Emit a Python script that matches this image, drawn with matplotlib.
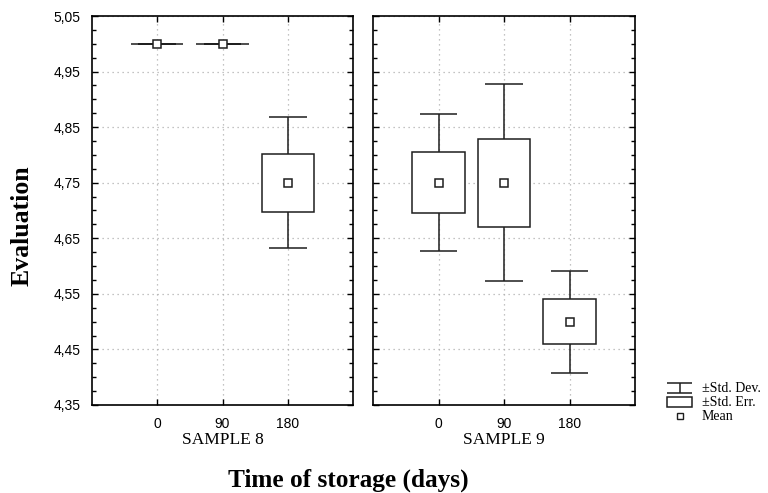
import numpy as np
import matplotlib
matplotlib.use("Agg")
from matplotlib import pyplot as plt
from matplotlib.patches import Rectangle
from matplotlib.ticker import FuncFormatter, MultipleLocator

# storage days and group statistics
days = ["0", "90", "180"]
samples = ["SAMPLE 8", "SAMPLE 9"]
mean_s8 = [5.00, 5.00, 4.75]
se_s8 = [0.0, 0.0, 0.052]
sd_s8 = [0.0, 0.0, 0.118]
mean_s9 = [4.75, 4.75, 4.50]
se_s9 = [0.055, 0.079, 0.041]
sd_s9 = [0.123, 0.177, 0.092]
y_ticks = [4.35, 4.45, 4.55, 4.65, 4.75, 4.85, 4.95, 5.05]

serif = "Liberation Serif"
sans = "Liberation Sans"
ink = "#1e1e1e"

fig = plt.figure(figsize=(7.68, 4.93), dpi=100)
W, H = 768.0, 493.0
ax1 = fig.add_axes([92 / W, 1 - 405 / H, 261 / W, 389 / H])
ax2 = fig.add_axes([373 / W, 1 - 405 / H, 262 / W, 389 / H])


def draw_panel(ax, means, ses, sds, title, show_y):
    x = np.arange(len(days))
    for xi, m, se, sd in zip(x, means, ses, sds):
        # std. dev whiskers
        ax.vlines(xi, m - sd, m + sd, color=ink, lw=1.1, zorder=3)
        ax.hlines([m - sd, m + sd], xi - 0.29, xi + 0.29, color=ink, lw=1.1, zorder=3)
        # std. error box
        ax.add_patch(Rectangle((xi - 0.4, m - se), 0.8, 2 * se, facecolor="white",
                               edgecolor=ink, lw=1.1, zorder=4))
    ax.plot(x, means, ls="none", marker="s", ms=6, mfc="white", mec=ink, mew=1.1, zorder=5)

    ax.set_xlim(-1, 3)
    ax.set_ylim(4.35, 5.05)
    ax.set_xticks(x)
    ax.set_xticklabels(days, fontfamily=sans, fontsize=10)
    ax.set_yticks(y_ticks)
    ax.yaxis.set_minor_locator(MultipleLocator(0.025))
    ax.yaxis.set_major_formatter(FuncFormatter(lambda v, p: f"{v:.2f}".replace(".", ",")))
    ax.tick_params(axis="both", which="both", direction="in", top=True, right=True,
                   color="black", width=1.0)
    ax.tick_params(axis="both", which="major", length=4)
    ax.tick_params(axis="y", which="minor", length=3)
    ax.tick_params(axis="x", pad=9)
    ax.tick_params(axis="y", pad=8, labelleft=show_y)
    for lab in ax.get_yticklabels():
        lab.set_fontfamily(sans)
        lab.set_fontsize(10)
    ax.grid(True, which="major", ls=(0, (1, 3)), color="#b0b0b0", lw=0.9)
    ax.set_axisbelow(True)
    for sp in ax.spines.values():
        sp.set_linewidth(1.2)
        sp.set_color("black")
    ax.set_xlabel(title, fontfamily=serif, fontsize=12.5, labelpad=0.5)


draw_panel(ax1, mean_s8, se_s8, sd_s8, samples[0], True)
draw_panel(ax2, mean_s9, se_s9, sd_s9, samples[1], False)

fig.text(22 / W, 1 - 226 / H, "Evaluation", rotation=90, ha="center", va="center",
         fontfamily=serif, fontweight="bold", fontsize=18.5)
fig.text(348.5 / W, 1 - 487 / H, "Time of storage (days)", ha="center", va="baseline",
         fontfamily=serif, fontweight="bold", fontsize=18.2)

# key for whiskers, boxes and mean marker
lg = fig.add_axes([660 / W, 1 - 425 / H, 108 / W, 50 / H])
lg.set_xlim(660, 768)
lg.set_ylim(425, 375)
lg.axis("off")
lg.vlines(679.5, 383, 393, color=ink, lw=1.1)
lg.hlines([383, 393], 667, 692, color=ink, lw=1.1)
lg.add_patch(Rectangle((667, 397), 25, 10, facecolor="white", edgecolor=ink, lw=1.1))
lg.plot([680], [415.5], ls="none", marker="s", ms=5, mfc="white", mec=ink, mew=1.0)
for ty, txt in zip([388, 402, 416], ["±Std. Dev.", "±Std. Err.", "Mean"]):
    lg.text(702, ty, txt, ha="left", va="center", fontfamily=serif, fontsize=10)

plt.savefig("out.png", dpi=100)
